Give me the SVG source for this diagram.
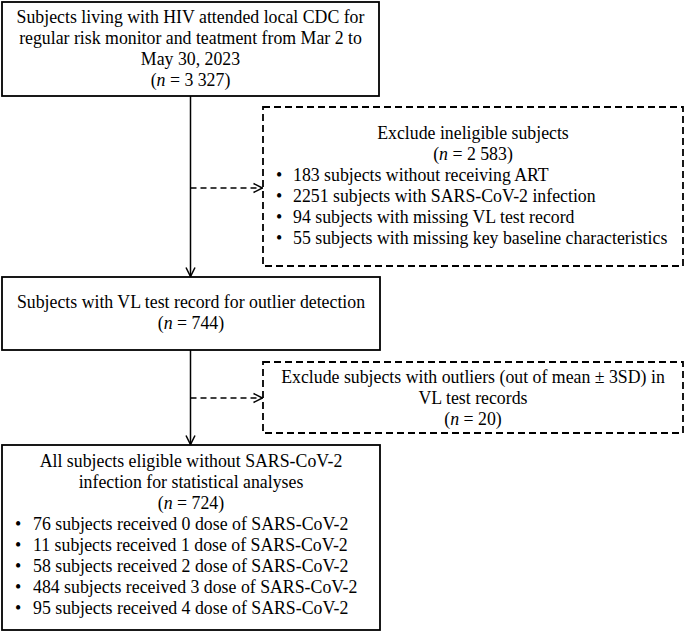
<svg xmlns="http://www.w3.org/2000/svg" width="685" height="632" viewBox="0 0 685 632">
<style>
  .box { fill: #ffffff; stroke: #000000; stroke-width: 1.8; }
  .dbox { fill: #ffffff; stroke: #000000; stroke-width: 1.8; stroke-dasharray: 7 4; }
  .t { font-family: "Liberation Serif", "Times New Roman", serif; font-size: 17.8px; fill: #000000; }
  .c { text-anchor: middle; }
  .line { stroke: #000000; stroke-width: 1.5; fill: none; }
  .dline { stroke: #000000; stroke-width: 1.5; fill: none; stroke-dasharray: 6 4; }
</style>
<defs>
  <marker id="arr" markerWidth="12" markerHeight="12" refX="10" refY="5" orient="auto" markerUnits="userSpaceOnUse" viewBox="0 0 12 10">
    <path d="M1,0.5 L10,5 L1,9.5" fill="none" stroke="#000000" stroke-width="1.5"/>
  </marker>
</defs>
<rect width="685" height="632" fill="#ffffff"/>
<g id="connectors">
  <line class="line" x1="190.5" y1="96" x2="190.5" y2="276.5" marker-end="url(#arr)"/>
  <line class="line" x1="190.5" y1="350" x2="190.5" y2="444.5" marker-end="url(#arr)"/>
  <line class="dline" x1="190.5" y1="188" x2="262.5" y2="188" marker-end="url(#arr)"/>
  <line class="dline" x1="190.5" y1="398" x2="262.5" y2="398" marker-end="url(#arr)"/>
</g>
<g id="n1">
  <rect class="box" x="2" y="2" width="377" height="94"/>
  <text class="t c" x="190.5" y="23">Subjects living with HIV attended local CDC for</text>
  <text class="t c" x="190.5" y="44">regular risk monitor and teatment from Mar 2 to</text>
  <text class="t c" x="190.5" y="65">May 30, 2023</text>
  <text class="t c" x="190.5" y="86">(<tspan font-style="italic">n</tspan> = 3 327)</text>
</g>
<g id="n2">
  <rect class="dbox" x="263" y="107" width="420" height="159"/>
  <text class="t c" x="473" y="139">Exclude ineligible subjects</text>
  <text class="t c" x="473" y="160">(<tspan font-style="italic">n</tspan> = 2 583)</text>
  <text class="t" x="276" y="181">•</text><text class="t" x="293" y="181">183 subjects without receiving ART</text>
  <text class="t" x="276" y="202">•</text><text class="t" x="293" y="202">2251 subjects with SARS-CoV-2 infection</text>
  <text class="t" x="276" y="223">•</text><text class="t" x="293" y="223">94 subjects with missing VL test record</text>
  <text class="t" x="276" y="244">•</text><text class="t" x="293" y="244">55 subjects with missing key baseline characteristics</text>
</g>
<g id="n3">
  <rect class="box" x="2" y="277" width="378" height="73"/>
  <text class="t c" x="191" y="308">Subjects with VL test record for outlier detection</text>
  <text class="t c" x="191" y="329">(<tspan font-style="italic">n</tspan> = 744)</text>
</g>
<g id="n4">
  <rect class="dbox" x="263" y="362" width="420" height="71"/>
  <text class="t c" x="473" y="383">Exclude subjects with outliers (out of mean ± 3SD) in</text>
  <text class="t c" x="473" y="404">VL test records</text>
  <text class="t c" x="473" y="425">(<tspan font-style="italic">n</tspan> = 20)</text>
</g>
<g id="n5">
  <rect class="box" x="2" y="445" width="378" height="185"/>
  <text class="t c" x="191" y="467">All subjects eligible without SARS-CoV-2</text>
  <text class="t c" x="191" y="488">infection for statistical analyses</text>
  <text class="t c" x="191" y="509">(<tspan font-style="italic">n</tspan> = 724)</text>
  <text class="t" x="15" y="530">•</text><text class="t" x="33" y="530">76 subjects received 0 dose of SARS-CoV-2</text>
  <text class="t" x="15" y="551">•</text><text class="t" x="33" y="551">11 subjects received 1 dose of SARS-CoV-2</text>
  <text class="t" x="15" y="572">•</text><text class="t" x="33" y="572">58 subjects received 2 dose of SARS-CoV-2</text>
  <text class="t" x="15" y="593">•</text><text class="t" x="33" y="593">484 subjects received 3 dose of SARS-CoV-2</text>
  <text class="t" x="15" y="614">•</text><text class="t" x="33" y="614">95 subjects received 4 dose of SARS-CoV-2</text>
</g>
</svg>
